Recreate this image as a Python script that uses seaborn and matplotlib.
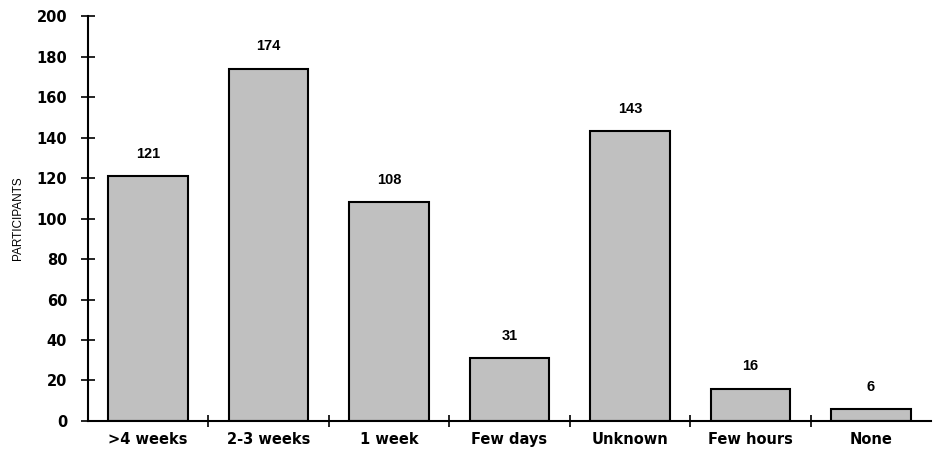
import seaborn as sns
import matplotlib.pyplot as plt
import pandas as pd

# data
categories = ['>4 weeks', '2-3 weeks', '1 week', 'Few days', 'Unknown', 'Few hours', 'None']
participants = [121, 174, 108, 31, 143, 16, 6]
yticks = [0, 20, 40, 60, 80, 100, 120, 140, 160, 180, 200]

df = pd.DataFrame({'duration': categories, 'participants': participants})

sns.set_style('white')
plt.rcParams['font.family'] = ['DejaVu Sans']
plt.rcParams['text.color'] = 'black'
plt.rcParams['xtick.color'] = 'black'
plt.rcParams['ytick.color'] = 'black'
plt.rcParams['axes.labelcolor'] = 'black'

fig = plt.figure(figsize=(9.33, 4.54), dpi=100)
ax = fig.add_axes([0.0943, 0.0727, 0.9037, 0.892])

sns.barplot(data=df, x='duration', y='participants', color='#c0c0c0',
            edgecolor='black', linewidth=1.5, width=0.66, saturation=1, ax=ax)

for i, v in enumerate(participants):
    ax.annotate(str(v), (i, v), xytext=(0, 11), textcoords='offset points',
                ha='center', va='bottom', fontsize=10.5, fontweight='bold',
                family='Liberation Sans', color='black')

ax.set_ylim(0, 200)
ax.set_xlim(-0.5, len(categories) - 0.5)
ax.set_yticks(yticks)
ax.set_yticklabels([str(t) for t in yticks], fontsize=10.5, fontweight='heavy')

# ticks between the categories
ax.set_xticks([i + 0.5 for i in range(len(categories) - 1)])
ax.set_xticks(range(len(categories)), minor=True)
ax.set_xticklabels([])
ax.set_xticklabels(categories, minor=True, fontsize=10.5, fontweight='heavy')
ax.tick_params(axis='x', which='minor', bottom=True, length=0, pad=8)
ax.tick_params(axis='x', which='major', bottom=True, direction='inout',
               length=8, width=1.2)
ax.tick_params(axis='y', left=True, direction='inout', length=10, width=1.2,
               pad=10)

ax.set_xlabel('')
ax.set_ylabel('PARTICIPANTS', fontsize=8.5, labelpad=9, family='Liberation Sans')

sns.despine(ax=ax)
for s in ['left', 'bottom']:
    ax.spines[s].set_linewidth(1.5)
    ax.spines[s].set_color('black')

fig.savefig('out.png', dpi=100)
